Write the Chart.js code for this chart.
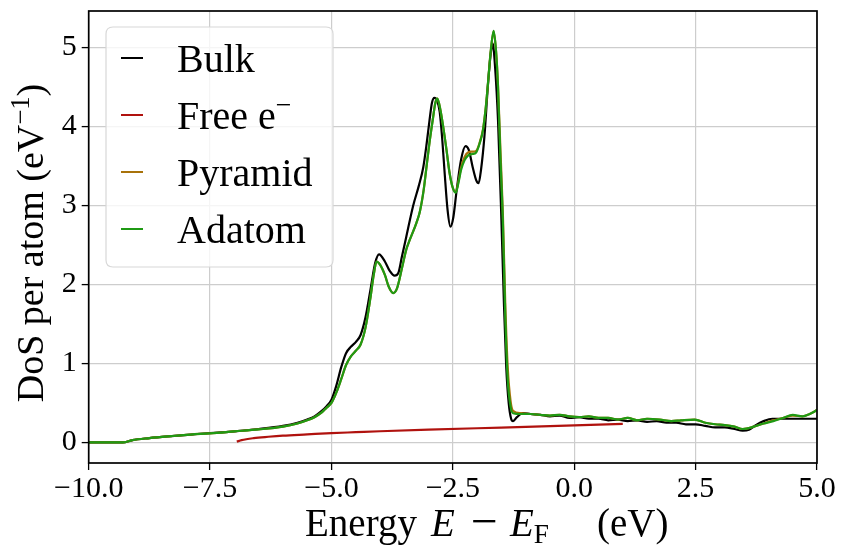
<!DOCTYPE html>
<html><head><meta charset="utf-8">
<script src="https://cdn.jsdelivr.net/npm/chart.js@4.4.0/dist/chart.umd.min.js"></script>
<style>html,body{margin:0;padding:0;background:#fff;}#wrap{width:841px;height:547px;}</style>
</head><body><div id="wrap"><canvas id="c" width="841" height="547"></canvas></div>
<script>
// ---- data ----
const xTickValues = [-10, -7.5, -5, -2.5, 0, 2.5, 5];
const yTickValues = [0, 1, 2, 3, 4, 5];
const seriesLabels = ['Bulk', 'Free e⁻', 'Pyramid', 'Adatom'];
const yTitle = 'DoS per atom (eV⁻¹)';

const bulkE = [-10,-9.6,-9.3,-9.1,-8.75,-8.3,-7.9,-7.5,-7.0,-6.5,-6.0,-5.7,-5.5,-5.35,-5.2,-5.1,-5.0,-4.9,-4.8,-4.7,-4.6,-4.5,-4.4,-4.3,-4.2,-4.1,-4.02,-3.9,-3.8,-3.7,-3.62,-3.55,-3.46,-3.32,-3.2,-3.11,-3.04,-2.98,-2.93,-2.88,-2.82,-2.77,-2.72,-2.67,-2.61,-2.55,-2.49,-2.42,-2.33,-2.24,-2.17,-2.09,-2.02,-1.97,-1.92,-1.85,-1.78,-1.72,-1.68,-1.63,-1.57,-1.50,-1.45,-1.40,-1.35,-1.30,-1.26,-1.18,-1.06,-0.9,-0.7,-0.5,-0.3,-0.1,0.1,0.3,0.5,0.7,0.9,1.1,1.3,1.5,1.7,1.9,2.1,2.3,2.5,2.7,2.9,3.1,3.3,3.47,3.6,3.74,3.9,4.08,4.3,4.6,5.0];
const bulkDos = [0,0,0,0.03,0.055,0.08,0.10,0.12,0.14,0.17,0.21,0.25,0.29,0.33,0.40,0.46,0.54,0.72,0.95,1.13,1.21,1.27,1.36,1.58,1.92,2.27,2.38,2.29,2.17,2.11,2.15,2.35,2.60,2.99,3.25,3.48,3.78,4.08,4.30,4.36,4.32,4.18,3.85,3.42,2.95,2.73,2.85,3.20,3.58,3.75,3.70,3.48,3.32,3.28,3.45,3.87,4.50,4.92,5.05,4.75,4.08,2.82,1.80,0.95,0.50,0.30,0.27,0.32,0.37,0.36,0.35,0.33,0.34,0.31,0.32,0.30,0.30,0.28,0.29,0.27,0.28,0.26,0.27,0.25,0.25,0.23,0.23,0.21,0.19,0.19,0.17,0.15,0.16,0.22,0.27,0.30,0.30,0.30,0.30];

const freeE = [-6.95,-6.85,-6.6,-6.3,-6.0,-5.5,-5.0,-4.5,-4.0,-3.0,-2.0,-1.0,0.0,1.0];
const freeDos = [0.01,0.03,0.055,0.072,0.086,0.102,0.118,0.13,0.142,0.162,0.18,0.197,0.215,0.235];

const adsE = [-10,-9.6,-9.3,-9.1,-8.75,-8.3,-7.9,-7.5,-7.0,-6.5,-6.0,-5.7,-5.5,-5.35,-5.2,-5.1,-5.0,-4.9,-4.8,-4.7,-4.6,-4.5,-4.4,-4.3,-4.2,-4.13,-4.07,-4.0,-3.9,-3.82,-3.73,-3.65,-3.55,-3.46,-3.39,-3.25,-3.18,-3.10,-3.05,-2.98,-2.91,-2.86,-2.82,-2.76,-2.70,-2.63,-2.57,-2.50,-2.44,-2.38,-2.33,-2.26,-2.19,-2.10,-2.02,-1.95,-1.88,-1.82,-1.78,-1.72,-1.66,-1.61,-1.57,-1.52,-1.47,-1.42,-1.37,-1.31,-1.26,-1.1,-0.9,-0.7,-0.5,-0.3,-0.1,0.1,0.3,0.5,0.7,0.9,1.1,1.3,1.5,1.76,2.0,2.2,2.48,2.7,2.9,3.1,3.3,3.47,3.7,3.9,4.1,4.3,4.5,4.7,4.85,5.0];
const adatomDos = [0,0,0,0.03,0.055,0.08,0.10,0.115,0.14,0.165,0.20,0.24,0.28,0.32,0.38,0.44,0.50,0.63,0.80,0.98,1.09,1.16,1.24,1.45,1.82,2.12,2.29,2.25,2.12,1.97,1.89,1.95,2.20,2.44,2.56,2.78,2.92,3.20,3.45,3.80,4.10,4.30,4.35,4.22,4.00,3.70,3.42,3.22,3.16,3.30,3.45,3.57,3.63,3.65,3.67,3.78,3.95,4.25,4.52,4.95,5.21,4.95,4.50,3.60,2.80,1.60,0.80,0.45,0.37,0.36,0.36,0.35,0.34,0.35,0.33,0.32,0.33,0.31,0.31,0.29,0.31,0.28,0.30,0.29,0.27,0.28,0.29,0.25,0.23,0.22,0.20,0.17,0.20,0.24,0.27,0.31,0.35,0.33,0.36,0.41];
const pyramidDos = [0,0,0,0.03,0.055,0.08,0.10,0.115,0.14,0.165,0.20,0.24,0.28,0.32,0.38,0.44,0.50,0.63,0.80,0.98,1.09,1.16,1.24,1.45,1.82,2.12,2.29,2.25,2.12,1.97,1.89,1.95,2.20,2.44,2.56,2.78,2.92,3.20,3.45,3.80,4.10,4.30,4.35,4.22,4.00,3.70,3.42,3.22,3.17,3.32,3.48,3.61,3.67,3.68,3.69,3.79,3.96,4.25,4.52,4.95,5.20,4.95,4.52,3.70,2.90,1.75,0.95,0.52,0.40,0.37,0.36,0.35,0.34,0.35,0.33,0.32,0.33,0.31,0.31,0.29,0.31,0.28,0.30,0.29,0.27,0.28,0.29,0.25,0.23,0.22,0.20,0.17,0.20,0.24,0.28,0.31,0.34,0.33,0.36,0.41];

const seriesColors = ['#000000', '#b0120e', '#a8720a', '#1f9a14'];

// ---- helpers ----
const zip = (xs, ys) => xs.map((x, i) => ({x, y: ys[i]}));
const FONT = '"Liberation Serif", "Times New Roman", serif';
const supMap = {'⁻': '−', '¹': '1'};
function parseRuns(str) {
  const runs = [];
  for (let i = 0; i < str.length; i++) {
    let ch = str[i], m = 'n';
    if (supMap[ch]) { ch = supMap[ch]; m = 'sup'; }
    if (runs.length && runs[runs.length - 1].m === m) runs[runs.length - 1].t += ch;
    else runs.push({t: ch, m});
  }
  return runs;
}
function runFont(m, size) {
  if (m === 'sup' || m === 'sub') return (size * 0.7).toFixed(1) + 'px ' + FONT;
  if (m === 'it') return 'italic ' + size + 'px ' + FONT;
  if (m === 'big') return (size * 1.22).toFixed(1) + 'px ' + FONT;
  return size + 'px ' + FONT;
}
function runsWidth(ctx, runs, size) {
  let w = 0;
  runs.forEach(r => { ctx.font = runFont(r.m, size); w += ctx.measureText(r.t).width; });
  return w;
}
function drawRuns(ctx, runs, x, y, size) {
  let cx = x;
  runs.forEach(r => {
    if (r.x !== undefined) cx = r.x;
    ctx.font = runFont(r.m, size);
    let dy = 0;
    if (r.m === 'sup') dy = -size * 0.38;
    if (r.m === 'sub') dy = size * 0.17;
    if (r.m === 'big') dy = size * 0.03;
    ctx.fillText(r.t, cx, y + dy);
    cx += ctx.measureText(r.t).width;
  });
}
// x title pieces: Energy E − E_F (eV)
const xTitleRuns = [
  {t: 'Energy', m: 'n', x: 305},
  {t: 'E', m: 'it', x: 431},
  {t: '−', m: 'big', x: 471},
  {t: 'E', m: 'it', x: 510},
  {t: 'F', m: 'sub'},
  {t: '(eV)', m: 'n', x: 597}
];

const decorPlugin = {
  id: 'decor',
  afterDatasetsDraw(chart) {
    const ctx = chart.ctx, a = chart.chartArea;
    ctx.save();
    ctx.strokeStyle = '#000'; ctx.lineWidth = 1.7;
    ctx.strokeRect(a.left, a.top, a.right - a.left, a.bottom - a.top);
    const bx = 106, by = 27, bw = 227, bh = 240, r = 7;
    ctx.beginPath();
    ctx.moveTo(bx + r, by); ctx.lineTo(bx + bw - r, by); ctx.quadraticCurveTo(bx + bw, by, bx + bw, by + r);
    ctx.lineTo(bx + bw, by + bh - r); ctx.quadraticCurveTo(bx + bw, by + bh, bx + bw - r, by + bh);
    ctx.lineTo(bx + r, by + bh); ctx.quadraticCurveTo(bx, by + bh, bx, by + bh - r);
    ctx.lineTo(bx, by + r); ctx.quadraticCurveTo(bx, by, bx + r, by);
    ctx.closePath();
    ctx.fillStyle = 'rgba(255,255,255,0.8)'; ctx.fill();
    ctx.strokeStyle = '#d8d8d8'; ctx.lineWidth = 1.2; ctx.stroke();
    ctx.textAlign = 'left'; ctx.textBaseline = 'alphabetic';
    chart.data.datasets.forEach((ds, i) => {
      const ly = 58 + i * 57;
      ctx.strokeStyle = ds.borderColor; ctx.lineWidth = 2;
      ctx.beginPath(); ctx.moveTo(121, ly); ctx.lineTo(143, ly); ctx.stroke();
      ctx.fillStyle = '#000';
      drawRuns(ctx, parseRuns(ds.label), 177, ly + 14, 40);
    });
    ctx.restore();
  },
  afterDraw(chart) {
    const ctx = chart.ctx;
    ctx.save();
    ctx.fillStyle = '#000'; ctx.textBaseline = 'alphabetic'; ctx.textAlign = 'left';
    drawRuns(ctx, xTitleRuns, 305, 536, 39);
    const yr = parseRuns(yTitle);
    const w = runsWidth(ctx, yr, 38);
    ctx.translate(43, 243);
    ctx.rotate(-Math.PI / 2);
    drawRuns(ctx, yr, -w / 2, 0, 38);
    ctx.restore();
  }
};

const fmtX = v => (v < 0 ? '−' : '') + Math.abs(v).toFixed(1);

new Chart(document.getElementById('c'), {
  type: 'line',
  data: {
    datasets: [
      {label: seriesLabels[0], data: zip(bulkE, bulkDos), borderColor: seriesColors[0], order: 3},
      {label: seriesLabels[1], data: zip(freeE, freeDos), borderColor: seriesColors[1], order: 2},
      {label: seriesLabels[2], data: zip(adsE, pyramidDos), borderColor: seriesColors[2], order: 1},
      {label: seriesLabels[3], data: zip(adsE, adatomDos), borderColor: seriesColors[3], order: 0}
    ]
  },
  options: {
    responsive: false,
    animation: false,
    layout: {padding: {left: 0, right: 24, top: 11, bottom: 0}},
    elements: {
      point: {radius: 0},
      line: {borderWidth: 2.2, tension: 0.4, cubicInterpolationMode: 'monotone', fill: false}
    },
    plugins: {legend: {display: false}, tooltip: {enabled: false}},
    scales: {
      x: {
        type: 'linear', min: -10, max: 5,
        afterBuildTicks: s => { s.ticks = xTickValues.map(v => ({value: v})); },
        afterFit: s => { s.height = 84; },
        grid: {color: '#cdcdcd', lineWidth: 1.2, tickColor: '#000', tickLength: 7, tickWidth: 1.3},
        border: {display: false},
        ticks: {color: '#000', font: {family: FONT, size: 30}, padding: 1, maxRotation: 0,
                callback: v => fmtX(v)}
      },
      y: {
        type: 'linear', min: -0.26, max: 5.46,
        afterBuildTicks: s => { s.ticks = yTickValues.map(v => ({value: v})); },
        afterFit: s => { s.width = 88.7; s.paddingTop = 0; s.paddingBottom = 0; },
        grid: {color: '#cdcdcd', lineWidth: 1.2, tickColor: '#000', tickLength: 7, tickWidth: 1.3},
        border: {display: false},
        ticks: {color: '#000', font: {family: FONT, size: 30, lineHeight: 0.5}, padding: 5,
                callback: v => String(v)}
      }
    }
  },
  plugins: [decorPlugin]
});
</script>
</body></html>
